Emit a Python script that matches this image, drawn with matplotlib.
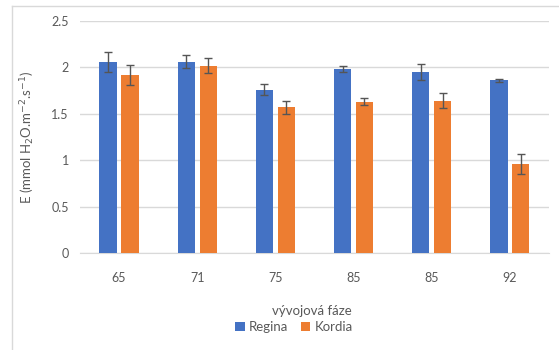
import numpy as np
import matplotlib
matplotlib.use('Agg')
import matplotlib.pyplot as plt
from matplotlib.lines import Line2D

phases = ['65', '71', '75', '85', '85', '92']
regina = [2.06, 2.06, 1.76, 1.98, 1.95, 1.86]
regina_err = [0.11, 0.07, 0.06, 0.03, 0.09, 0.02]
kordia = [1.92, 2.02, 1.57, 1.63, 1.64, 0.96]
kordia_err = [0.11, 0.08, 0.07, 0.04, 0.08, 0.11]

plt.rcParams['font.family'] = ['Lato', 'DejaVu Sans']
grey = '#595959'

fig = plt.figure(figsize=(5.59, 3.5), dpi=100)
ax = fig.add_axes([0.143, 0.277, 0.839, 0.663])

x = np.arange(len(phases))
w = 0.22
ekw = dict(ecolor='#555555', elinewidth=1, capsize=3, capthick=1)
ax.bar(x - 0.14, regina, w, yerr=regina_err, color='#4472C4', label='Regina',
       zorder=3, error_kw=ekw)
ax.bar(x + 0.14, kordia, w, yerr=kordia_err, color='#ED7D31', label='Kordia',
       zorder=3, error_kw=ekw)

ax.set_xlim(-0.5, 5.5)
ax.set_ylim(0, 2.5)
ax.set_yticks([0, 0.5, 1, 1.5, 2, 2.5])
ax.set_yticklabels(['0', '0.5', '1', '1.5', '2', '2.5'])
ax.set_xticks(x)
ax.set_xticklabels(phases)
ax.tick_params(length=0, colors=grey, labelsize=9, pad=8)
ax.tick_params(axis='x', pad=14)
ax.grid(axis='y', color='#D9D9D9', lw=1, zorder=0)
for s in ['top', 'right', 'left']:
    ax.spines[s].set_visible(False)
ax.spines['bottom'].set_color('#D9D9D9')

ax.set_ylabel('E (mmol H$_2$O.m$^{-2}$.s$^{-1}$)', color=grey, fontsize=9.5, labelpad=10)
ax.set_xlabel('vývojová fáze', color=grey, fontsize=9.5)
ax.xaxis.set_label_coords(0.495, -0.225)
ax.legend(loc='center', bbox_to_anchor=(0.526, 1 - 327/350), bbox_transform=fig.transFigure,
          ncol=2, frameon=False, fontsize=9.5, handlelength=0.7, handleheight=0.7,
          handletextpad=0.3, columnspacing=1.0, labelcolor=grey)

# chart frame
fig.add_artist(Line2D([12/559, 12/559], [0, 1 - 6/350], color='#D9D9D9', lw=1))
fig.add_artist(Line2D([12/559, 1], [1 - 6/350, 1 - 6/350], color='#D9D9D9', lw=1))

fig.savefig('out.png', dpi=100)
